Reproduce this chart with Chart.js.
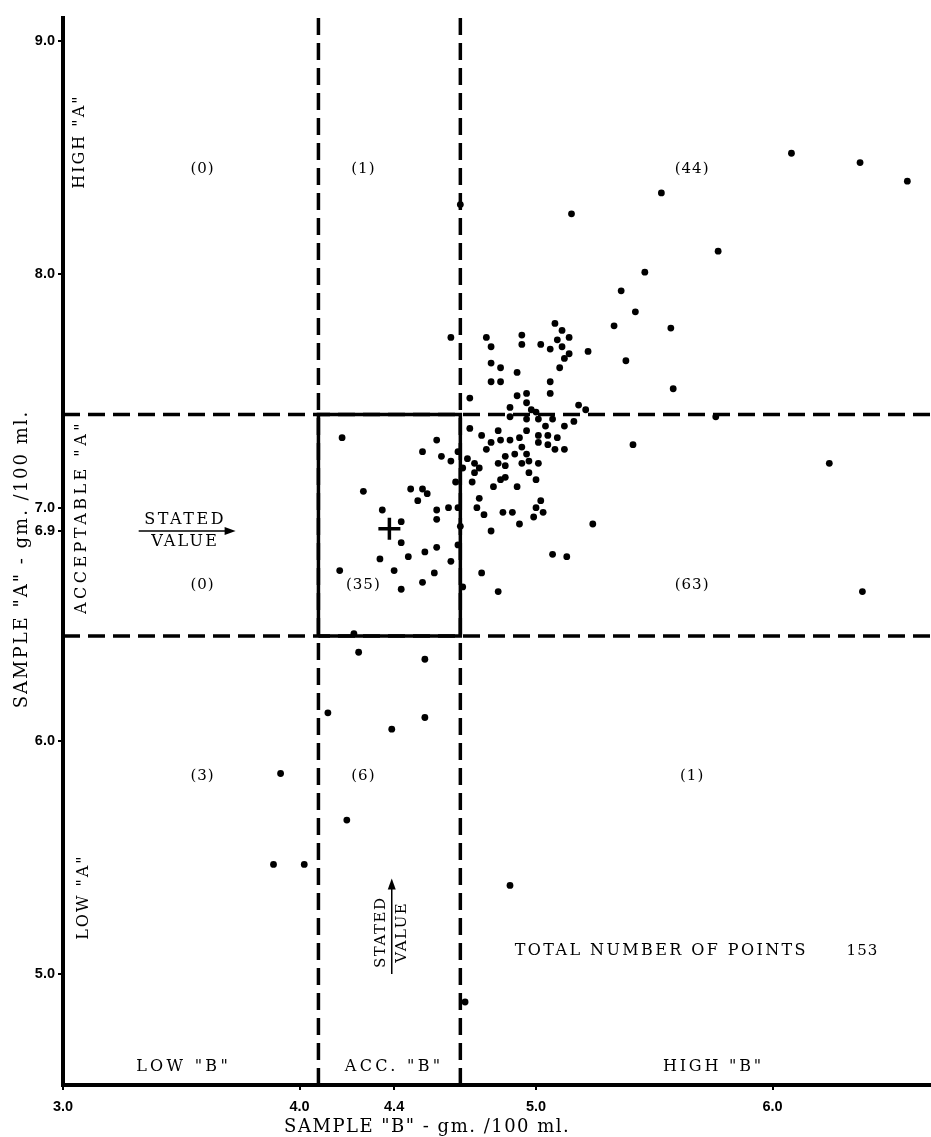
<!DOCTYPE html>
<html>
<head>
<meta charset="utf-8">
<script src="https://cdn.jsdelivr.net/npm/chart.js@4.4.0/dist/chart.umd.min.js"></script>
<style>
  html, body { margin: 0; padding: 0; background: #fff; overflow: hidden; }
  #wrap { width: 931px; height: 1137px; position: relative; overflow: hidden; }
  #youden { display: block; }
</style>
</head>
<body>
<div id="wrap"><canvas id="youden"></canvas></div>
<script>
// sample "B" (x) and sample "A" (y) results, gm./100 ml
const sampleB = [
  6.08, 6.37, 6.57, 5.53, 5.15, 5.77, 5.46, 5.36, 5.42, 5.33,
  5.57, 5.11, 5.14, 5.11, 5.14, 5.22, 5.12, 5.10, 5.38, 5.58,
  5.18, 5.21, 5.76, 5.16, 5.12, 5.08, 4.94, 4.79, 4.64, 5.09,
  4.81, 4.94, 5.02, 5.06, 4.81, 4.85, 4.92, 4.81, 4.85, 5.06,
  5.06, 4.92, 4.96, 4.72, 4.96, 4.89, 4.89, 4.98, 5.00, 4.96,
  5.01, 5.07, 5.04, 4.72, 4.84, 4.96, 4.77, 4.93, 5.01, 5.05,
  5.09, 4.81, 4.85, 4.89, 5.01, 5.05, 4.79, 4.94, 5.08, 5.12,
  4.58, 4.60, 4.64, 4.67, 4.71, 4.69, 4.91, 4.96, 4.87, 4.97,
  4.74, 4.84, 4.94, 5.01, 4.76, 4.87, 4.74, 4.97, 4.87, 4.85,
  5.00, 4.66, 4.73, 4.82, 4.92, 4.76, 5.02, 4.63, 4.67, 4.75,
  5.00, 4.86, 4.90, 5.03, 4.78, 4.99, 4.93, 5.24, 4.68, 4.81,
  5.41, 6.24, 6.38, 4.18, 4.52, 4.27, 4.47, 4.52, 4.54, 4.50,
  4.35, 4.58, 4.58, 4.43, 4.43, 4.58, 4.53, 4.46, 4.34, 4.64,
  4.67, 4.40, 4.57, 4.17, 4.52, 4.43, 4.69, 4.84, 4.77, 5.07,
  5.13, 4.23, 4.25, 4.53, 4.12, 4.53, 4.39, 3.92, 4.20, 3.89,
  4.02, 4.89, 4.70, 4.68
];
const sampleA = [
  8.52, 8.48, 8.40, 8.35, 8.26, 8.10, 8.01, 7.93, 7.84, 7.78,
  7.77, 7.76, 7.73, 7.69, 7.66, 7.67, 7.64, 7.60, 7.63, 7.51,
  7.44, 7.42, 7.39, 7.37, 7.35, 7.79, 7.74, 7.73, 7.73, 7.72,
  7.69, 7.70, 7.70, 7.68, 7.62, 7.60, 7.58, 7.54, 7.54, 7.54,
  7.49, 7.48, 7.49, 7.47, 7.45, 7.43, 7.39, 7.42, 7.41, 7.38,
  7.38, 7.38, 7.35, 7.34, 7.33, 7.33, 7.31, 7.30, 7.31, 7.31,
  7.30, 7.28, 7.29, 7.29, 7.28, 7.27, 7.25, 7.26, 7.25, 7.25,
  7.29, 7.22, 7.20, 7.24, 7.21, 7.17, 7.23, 7.23, 7.22, 7.20,
  7.19, 7.19, 7.19, 7.19, 7.17, 7.18, 7.15, 7.15, 7.13, 7.12,
  7.12, 7.11, 7.11, 7.09, 7.09, 7.04, 7.03, 7.00, 7.00, 7.00,
  7.00, 6.98, 6.98, 6.98, 6.97, 6.96, 6.93, 6.93, 6.92, 6.90,
  7.27, 7.19, 6.64, 7.30, 7.24, 7.07, 7.08, 7.08, 7.06, 7.03,
  6.99, 6.99, 6.95, 6.94, 6.85, 6.83, 6.81, 6.79, 6.78, 6.77,
  6.84, 6.73, 6.72, 6.73, 6.68, 6.65, 6.66, 6.64, 6.72, 6.80,
  6.79, 6.46, 6.38, 6.35, 6.12, 6.10, 6.05, 5.86, 5.66, 5.47,
  5.47, 5.38, 4.88, 8.30
];
const statedB = 4.38;
const statedA = 6.91;
const limitsB = [4.08, 4.68];
const limitsA = [6.45, 7.40];
const xTicks = [3.0, 4.0, 4.4, 5.0, 6.0];
const yTicks = [5.0, 6.0, 6.9, 7.0, 8.0, 9.0];
// points per region, rows high/acceptable/low "A", columns low/acc/high "B"
const regionCounts = [
  [0, 1, 44],
  [0, 35, 63],
  [3, 6, 1]
];
const totalPoints = 153;

const X_MIN = 3.0, X_MAX = 6.67, Y_MIN = 4.524, Y_MAX = 9.10;

const points = sampleB.map((b, i) => ({ x: b, y: sampleA[i] }));
const dash = [17, 8];
const lineDs = (data, d, order) => ({
  type: 'line', data, borderColor: '#000', borderWidth: 3.5,
  borderDash: d, pointRadius: 0, fill: false, order
});

const serif = '"DejaVu Serif", "Liberation Serif", serif';

const annotate = {
  id: 'annotate',
  afterDatasetsDraw(chart) {
    const { ctx, scales: { x, y }, chartArea } = chart;
    const put = (str, vx, vy, o = {}) => {
      ctx.save();
      ctx.font = (o.size || 16) + 'px ' + serif;
      ctx.letterSpacing = (o.sp || 0) + 'px';
      ctx.fillStyle = '#000';
      ctx.textAlign = o.align || 'center';
      ctx.textBaseline = o.base || 'middle';
      ctx.translate(o.px !== undefined ? o.px : x.getPixelForValue(vx),
                    o.py !== undefined ? o.py : y.getPixelForValue(vy));
      if (o.rot) ctx.rotate(-Math.PI / 2);
      ctx.fillText(str, 0, 0);
      ctx.restore();
    };

    // counts in each region
    const colX = [3.59, 4.27, 5.66];
    const rowY = [8.45, 6.67, 5.85];
    regionCounts.forEach((row, r) => row.forEach((n, c) => {
      put('(' + n + ')', colX[c], rowY[r], { size: 15, sp: 1 });
    }));

    // side labels
    put('HIGH "A"', 3.07, 8.57, { rot: true, sp: 2 });
    put('ACCEPTABLE "A"', 3.08, 6.96, { rot: true, sp: 3.5 });
    put('LOW "A"', 3.09, 5.33, { rot: true, sp: 2 });
    put('LOW "B"', 3.51, 4.60, { sp: 3.3 });
    put('ACC. "B"', 4.40, 4.60, { sp: 3.3 });
    put('HIGH "B"', 5.75, 4.60, { sp: 2.8 });
    put('TOTAL NUMBER OF POINTS', 4.91, 5.10, { align: 'left', sp: 2.4 });
    put(String(totalPoints), 6.38, 5.10, { size: 15, sp: 1 });

    // axis titles
    put('SAMPLE "B" - gm. /100 ml.', 4.54, 0, { py: chartArea.bottom + 42, size: 18, sp: 1.5 });
    put('SAMPLE "A" - gm. /100 ml.', 0, 6.78, { px: chartArea.left - 41, rot: true, size: 18, sp: 2 });

    // horizontal stated value arrow
    ctx.save();
    ctx.strokeStyle = '#000';
    ctx.fillStyle = '#000';
    ctx.lineWidth = 1.5;
    const ly = y.getPixelForValue(statedA - 0.01);
    const lx0 = x.getPixelForValue(3.32), lx1 = x.getPixelForValue(3.73);
    ctx.beginPath(); ctx.moveTo(lx0, ly); ctx.lineTo(lx1 - 8, ly); ctx.stroke();
    ctx.beginPath(); ctx.moveTo(lx1, ly); ctx.lineTo(lx1 - 11, ly - 4); ctx.lineTo(lx1 - 11, ly + 4); ctx.closePath(); ctx.fill();
    // vertical stated value arrow
    const vx = x.getPixelForValue(statedB + 0.01);
    const vy0 = y.getPixelForValue(5.0), vy1 = y.getPixelForValue(5.41);
    ctx.beginPath(); ctx.moveTo(vx, vy0); ctx.lineTo(vx, vy1 + 8); ctx.stroke();
    ctx.beginPath(); ctx.moveTo(vx, vy1); ctx.lineTo(vx - 4, vy1 + 11); ctx.lineTo(vx + 4, vy1 + 11); ctx.closePath(); ctx.fill();
    ctx.restore();

    put('STATED', 0, 0, { px: (lx0 + lx1) / 2 - 2, py: ly - 3, base: 'bottom', size: 16, sp: 2.5 });
    put('VALUE', 0, 0, { px: (lx0 + lx1) / 2 - 2, py: ly + 3, base: 'top', size: 16, sp: 2.2 });
    const vmid = (vy0 + vy1) / 2 + 6;
    put('STATED', 0, 0, { px: vx - 3, py: vmid, base: 'bottom', rot: true, size: 15, sp: 1.5 });
    put('VALUE', 0, 0, { px: vx + 3, py: vmid, base: 'top', rot: true, size: 15, sp: 1.5 });
  }
};

new Chart(document.getElementById('youden'), {
  type: 'scatter',
  data: {
    datasets: [
      {
        label: 'laboratories',
        data: points,
        backgroundColor: '#000',
        borderWidth: 0,
        pointRadius: 3.4,
        order: 0
      },
      {
        label: 'stated value',
        data: [{ x: statedB, y: statedA }],
        pointStyle: 'cross',
        pointRadius: 11,
        borderColor: '#000',
        borderWidth: 3.5,
        order: 0
      },
      // acceptable limits, dashed across the whole plot
      lineDs([{ x: limitsB[0], y: Y_MIN }, { x: limitsB[0], y: Y_MAX }], dash, 2),
      lineDs([{ x: limitsB[1], y: Y_MIN }, { x: limitsB[1], y: Y_MAX }], dash, 2),
      lineDs([{ x: X_MIN, y: limitsA[0] }, { x: X_MAX, y: limitsA[0] }], dash, 2),
      lineDs([{ x: X_MIN, y: limitsA[1] }, { x: X_MAX, y: limitsA[1] }], dash, 2),
      // solid box round the acceptable/acceptable region
      lineDs([
        { x: limitsB[0], y: limitsA[0] }, { x: limitsB[0], y: limitsA[1] },
        { x: limitsB[1], y: limitsA[1] }, { x: limitsB[1], y: limitsA[0] },
        { x: limitsB[0], y: limitsA[0] }
      ], [], 1)
    ]
  },
  options: {
    responsive: true,
    maintainAspectRatio: false,
    animation: false,
    layout: { autoPadding: false, padding: { top: 18, right: 0, left: 0, bottom: 0 } },
    plugins: { legend: { display: false }, tooltip: { enabled: false } },
    scales: {
      x: {
        type: 'linear',
        min: X_MIN,
        max: X_MAX,
        afterBuildTicks: (s) => { s.ticks = xTicks.map(v => ({ value: v })); },
        afterFit: (s) => { s.height = 52; },
        border: { display: true, color: '#000', width: 4 },
        grid: { drawOnChartArea: false, color: '#000', lineWidth: 2, tickLength: 5 },
        ticks: {
          autoSkip: false, maxRotation: 0, padding: 8, color: '#000',
          font: { family: 'Liberation Sans', weight: 'bold', size: 14.5 },
          callback: (v) => Number(v).toFixed(1)
        }
      },
      y: {
        type: 'linear',
        min: Y_MIN,
        max: Y_MAX,
        afterBuildTicks: (s) => { s.ticks = yTicks.map(v => ({ value: v })); },
        afterFit: (s) => { s.width = 63; },
        border: { display: true, color: '#000', width: 4 },
        grid: { drawOnChartArea: false, color: '#000', lineWidth: 2, tickLength: 5 },
        ticks: {
          autoSkip: false, padding: 3, color: '#000',
          font: { family: 'Liberation Sans', weight: 'bold', size: 14.5 },
          callback: (v) => Number(v).toFixed(1)
        }
      }
    }
  },
  plugins: [annotate]
});
</script>
</body>
</html>
